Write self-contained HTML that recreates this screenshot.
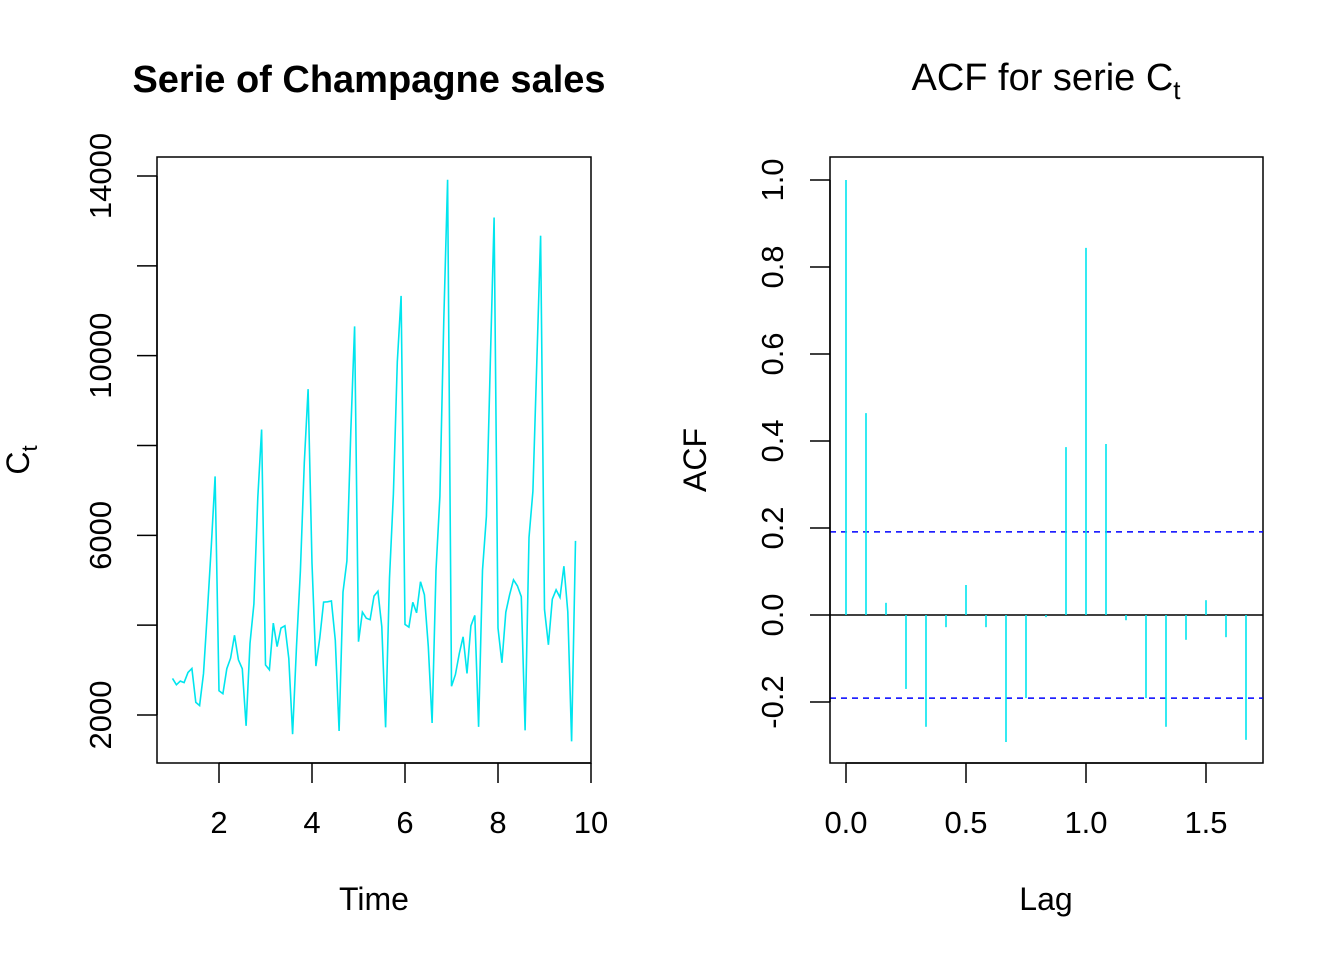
<!DOCTYPE html>
<html><head><meta charset="utf-8"><style>
html,body{margin:0;padding:0;background:#fff;}
svg{display:block;font-family:"Liberation Sans",sans-serif;}
</style></head><body>
<svg id="chart" width="1344" height="960" viewBox="0 0 1344 960">
<g id="left"></g>
<g id="right"></g>
</svg>
<script>
const salesValues = [2815,2672,2755,2721,2946,3036,2282,2212,2922,4301,5764,7312,
2541,2475,3031,3266,3776,3230,3028,1759,3595,4474,6838,8357,
3113,3006,4047,3523,3937,3986,3260,1573,3528,5211,7614,9254,
5375,3088,3718,4514,4520,4539,3663,1643,4739,5428,8314,10651,
3633,4292,4154,4121,4647,4753,3965,1723,5048,6922,9858,11331,
4016,3957,4510,4276,4968,4677,3523,1821,5222,6872,10803,13916,
2639,2899,3370,3740,2927,3986,4217,1738,5221,6424,9842,13076,
3934,3162,4286,4676,5010,4874,4633,1659,5951,6981,9851,12670,
4348,3564,4577,4788,4618,5312,4298,1413,5877];
const salesStart = 1, salesFreq = 12;
const salesXTicks = [2,4,6,8,10];
const salesYTicks = [2000,4000,6000,8000,10000,12000,14000];
const salesYLabels = ["2000","","6000","","10000","","14000"];
const acfValues = [1.0,0.464,0.028,-0.170,-0.257,-0.028,0.069,-0.028,-0.292,-0.191,-0.005,0.386,0.844,0.393,-0.012,-0.191,-0.257,-0.057,0.034,-0.051,-0.287];
const acfLagStep = 1/12;
const acfCI = 0.191;
const acfYTicks = [-0.2,0,0.2,0.4,0.6,0.8,1.0];
const acfYLabels = ["-0.2","0.0","0.2","0.4","0.6","0.8","1.0"];
const acfXTicks = [0,0.5,1,1.5];
const acfXLabels = ["0.0","0.5","1.0","1.5"];

const NS="http://www.w3.org/2000/svg";
function mk(parent,tag,attrs,text){const e=document.createElementNS(NS,tag);for(const k in attrs)e.setAttribute(k,attrs[k]);if(text!==undefined)e.textContent=text;parent.appendChild(e);return e;}

// Left panel
const L=document.getElementById('left');
const lx=t=>219+(t-2)*46.5;
const ly=v=>715-(v-2000)*(539/12000);
let e=mk(L,'rect',{x:157,y:157,width:434,height:606,fill:'none',stroke:'#000','stroke-width':1.5});

let pts=salesValues.map((v,i)=>lx(salesStart+i/salesFreq).toFixed(1)+','+ly(v).toFixed(1)).join(' ');
e=mk(L,'polyline',{points:pts,fill:'none',stroke:'#00e5ee','stroke-width':1.6});

e=mk(L,'line',{x1:lx(salesXTicks[0]),x2:lx(salesXTicks[salesXTicks.length-1]),y1:763,y2:763,stroke:'#000','stroke-width':1.5});

salesXTicks.forEach(t=>{
 e=mk(L,'line',{x1:lx(t),x2:lx(t),y1:763,y2:783,stroke:'#000','stroke-width':1.5});
 
 e=mk(L,'text',{x:lx(t),y:833,'font-size':31,'text-anchor':'middle'},String(t));
 
});
e=mk(L,'line',{x1:157,x2:157,y1:ly(salesYTicks[0]),y2:ly(salesYTicks[salesYTicks.length-1]),stroke:'#000','stroke-width':1.5});

salesYTicks.forEach((t,i)=>{
 e=mk(L,'line',{x1:137,x2:157,y1:ly(t),y2:ly(t),stroke:'#000','stroke-width':1.5});
 
 if(salesYLabels[i]){
  e=mk(L,'text',{x:0,y:0,'font-size':31,'text-anchor':'middle',transform:`translate(111,${ly(t)}) rotate(-90)`},salesYLabels[i]);
  
 }
});
e=mk(L,'text',{x:369,y:92,'font-size':38,'font-weight':'bold','text-anchor':'middle'},'Serie of Champagne sales');

e=mk(L,'text',{x:374,y:910,'font-size':32,'text-anchor':'middle'},'Time');

e=mk(L,'text',{x:0,y:0,'font-size':32,'text-anchor':'middle',transform:'translate(29,460) rotate(-90)'});

e.innerHTML='C<tspan font-size="22" dy="8">t</tspan>';

// Right panel
const R=document.getElementById('right');
const rx=l=>846+l*240;
const ry=v=>615-v*435;
e=mk(R,'rect',{x:830,y:157,width:433,height:606,fill:'none',stroke:'#000','stroke-width':1.5});

e=mk(R,'line',{x1:830,x2:1263,y1:ry(0),y2:ry(0),stroke:'#000','stroke-width':1.5});

[acfCI,-acfCI].forEach(c=>{
 e=mk(R,'line',{x1:830,x2:1263,y1:ry(c),y2:ry(c),stroke:'#0000ff','stroke-width':1.5,'stroke-dasharray':'6,5'});
 
});
acfValues.forEach((v,i)=>{
 const x=rx(i*acfLagStep);
 e=mk(R,'line',{x1:x,x2:x,y1:ry(0),y2:ry(v),stroke:'#00e5ee','stroke-width':1.6});
 
});
e=mk(R,'line',{x1:rx(acfXTicks[0]),x2:rx(acfXTicks[acfXTicks.length-1]),y1:763,y2:763,stroke:'#000','stroke-width':1.5});

acfXTicks.forEach((t,i)=>{
 e=mk(R,'line',{x1:rx(t),x2:rx(t),y1:763,y2:783,stroke:'#000','stroke-width':1.5});
 
 e=mk(R,'text',{x:rx(t),y:833,'font-size':31,'text-anchor':'middle'},acfXLabels[i]);
 
});
e=mk(R,'line',{x1:830,x2:830,y1:ry(acfYTicks[0]),y2:ry(acfYTicks[acfYTicks.length-1]),stroke:'#000','stroke-width':1.5});

acfYTicks.forEach((t,i)=>{
 e=mk(R,'line',{x1:810,x2:830,y1:ry(t),y2:ry(t),stroke:'#000','stroke-width':1.5});
 
 e=mk(R,'text',{x:0,y:0,'font-size':31,'text-anchor':'middle',transform:`translate(783,${ry(t)}) rotate(-90)`},acfYLabels[i]);
 
});
e=mk(R,'text',{x:1046,y:90,'font-size':38,'text-anchor':'middle'});

e.innerHTML='ACF for serie C<tspan font-size="26" dy="9">t</tspan>';
e=mk(R,'text',{x:1046,y:910,'font-size':32,'text-anchor':'middle'},'Lag');

e=mk(R,'text',{x:0,y:0,'font-size':32,'text-anchor':'middle',transform:'translate(706,460) rotate(-90)'},'ACF');

</script>
</body></html>
